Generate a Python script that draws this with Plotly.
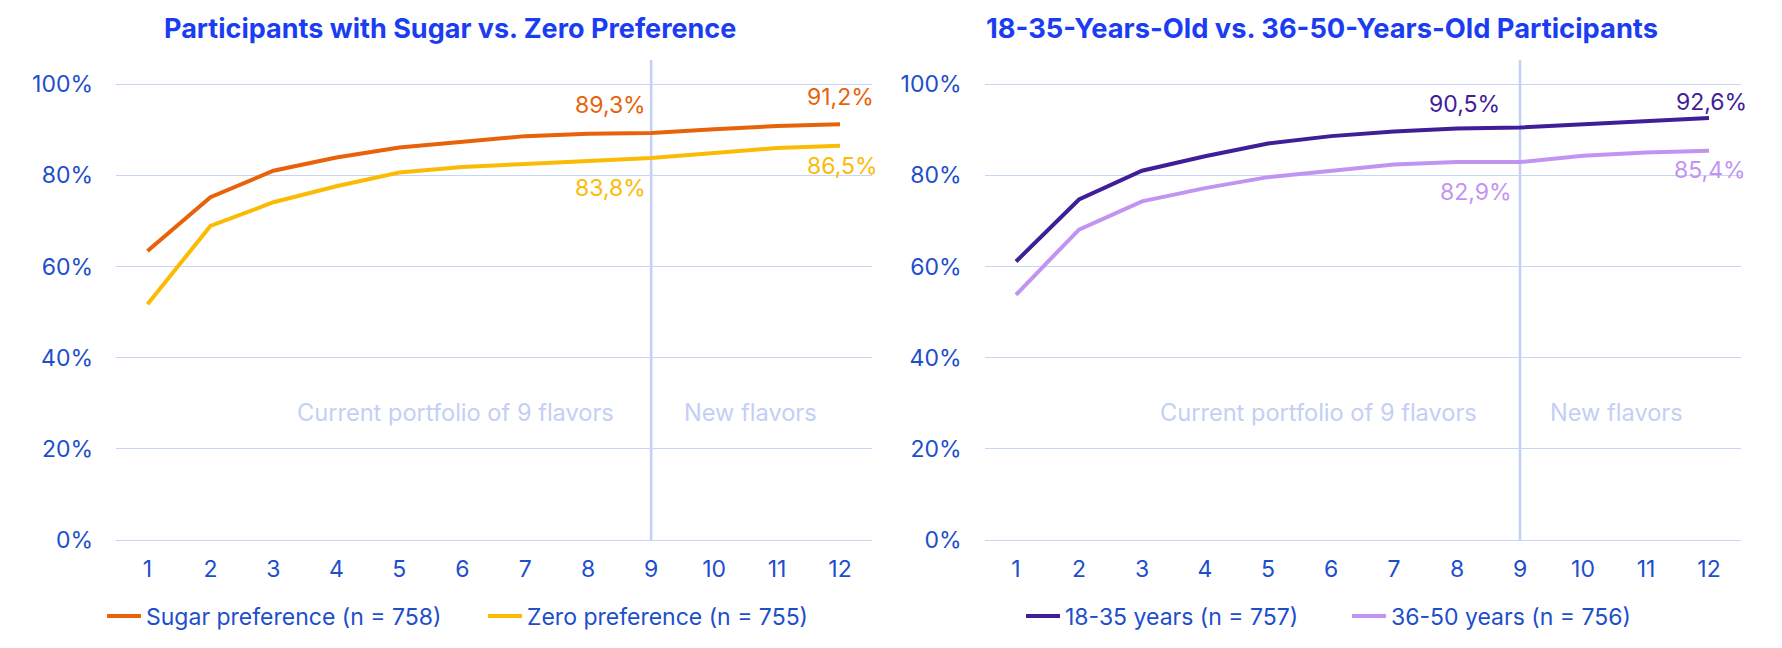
import plotly.graph_objects as go

# ---------------- data ----------------
flavors = list(range(1, 13))
sugar_pref = [0.634, 0.752, 0.810, 0.839, 0.861, 0.874, 0.886, 0.891, 0.893, 0.901, 0.908, 0.912]
zero_pref = [0.517, 0.689, 0.741, 0.776, 0.806, 0.818, 0.825, 0.831, 0.838, 0.849, 0.860, 0.865]
age_18_35 = [0.611, 0.747, 0.810, 0.842, 0.870, 0.886, 0.896, 0.903, 0.905, 0.912, 0.918, 0.926]
age_36_50 = [0.538, 0.681, 0.743, 0.772, 0.796, 0.811, 0.824, 0.829, 0.829, 0.843, 0.850, 0.854]

name_sugar = "Sugar preference (n = 758)"
name_zero = "Zero preference (n = 755)"
name_young = "18-35 years (n = 757)"
name_old = "36-50 years (n = 756)"

title_left = "Participants with Sugar vs. Zero Preference"
title_right = "18-35-Years-Old vs. 36-50-Years-Old Participants"
portfolio_text = "Current portfolio of 9 flavors"
new_text = "New flavors"
portfolio_size = 9
y_ticks = [0, 0.2, 0.4, 0.6, 0.8, 1.0]

# ---------------- style ----------------
FONT = "Inter"
TITLE_C = "#1B3DF2"
TICK_C = "#1D4ECC"
GRID_C = "#C6D5F8"
VLINE_C = "#C2D0F8"
NOTE_C = "#C3CFF6"
C_SUGAR = "#E8620A"
C_ZERO = "#FBBB05"
C_YOUNG = "#3F1E98"
C_OLD = "#C294F2"
FS = 23
W, H = 1782, 648


def pct(v):
    return f"{v*100:.1f}".replace(".", ",") + "%"


fig = go.Figure()

series = [
    (sugar_pref, name_sugar, C_SUGAR, "x", "y", "legend", 102),
    (zero_pref, name_zero, C_ZERO, "x", "y", "legend2", 483),
    (age_18_35, name_young, C_YOUNG, "x2", "y2", "legend3", 1021),
    (age_36_50, name_old, C_OLD, "x2", "y2", "legend4", 1347),
]
legends = {}
for vals, nm, col, xa, ya, lg, lx in series:
    fig.add_trace(go.Scatter(
        x=flavors, y=vals, name=nm, mode="lines",
        line=dict(color=col, width=4), xaxis=xa, yaxis=ya, legend=lg,
        hoverinfo="skip",
    ))
    legends[lg] = dict(orientation="h", x=lx / W, xref="container", xanchor="left",
                       y=32 / H, yref="container", yanchor="middle",
                       font=dict(family=FONT, size=FS, color=TICK_C),
                       bgcolor="rgba(0,0,0,0)", itemwidth=34)

YMAX = 1.053
ax_common_x = dict(
    range=[0.5, 12.5], tickvals=flavors, showgrid=False, zeroline=False,
    showline=False, ticks="", tickfont=dict(family=FONT, size=FS, color=TICK_C),
    ticklabelstandoff=13, automargin=False,
)
ax_common_y = dict(
    range=[0, YMAX], tickvals=y_ticks, tickformat=".0%", showgrid=True,
    gridcolor=GRID_C, gridwidth=1, zeroline=True, zerolinecolor=GRID_C,
    zerolinewidth=1, showline=False, ticks="",
    tickfont=dict(family=FONT, size=FS, color=TICK_C), ticklabelstandoff=22,
    automargin=False,
)

y_dom = [(H - 540) / H, (H - 60) / H]
fig.update_layout(
    width=W, height=H,
    margin=dict(l=0, r=0, t=0, b=0, autoexpand=False),
    paper_bgcolor="white", plot_bgcolor="white",
    font=dict(family=FONT, color=TICK_C),
    xaxis=dict(domain=[116 / W, 871.5 / W], anchor="y", **ax_common_x),
    yaxis=dict(domain=y_dom, anchor="x", **ax_common_y),
    xaxis2=dict(domain=[984.5 / W, 1740.5 / W], anchor="y2", **ax_common_x),
    yaxis2=dict(domain=y_dom, anchor="x2", **ax_common_y),
    showlegend=True,
    **legends,
)

# vertical separators and region notes
for xa, ya, s_left, s_right in [("x", "y", -35, 31), ("x2", "y2", -41, 28)]:
    fig.add_shape(type="line", xref=xa, yref=ya, x0=portfolio_size, x1=portfolio_size,
                  y0=0, y1=YMAX, line=dict(color=VLINE_C, width=2.5), layer="below")
    fig.add_annotation(xref=xa, yref=ya, x=portfolio_size, y=0.28, text=portfolio_text,
                       showarrow=False, xanchor="right", yanchor="middle", xshift=s_left,
                       font=dict(family=FONT, size=23.6, color=NOTE_C))
    fig.add_annotation(xref=xa, yref=ya, x=portfolio_size, y=0.28, text=new_text,
                       showarrow=False, xanchor="left", yanchor="middle", xshift=s_right,
                       font=dict(family=FONT, size=23.6, color=NOTE_C))

# data labels (index 8 -> flavor 9, index 11 -> flavor 12)
label_cfg = [
    (sugar_pref, C_SUGAR, "x", "y", 8, "right", -3, 28),
    (sugar_pref, C_SUGAR, "x", "y", 11, "center", 0, 27),
    (zero_pref, C_ZERO, "x", "y", 8, "right", -3, -30),
    (zero_pref, C_ZERO, "x", "y", 11, "center", 2, -20),
    (age_18_35, C_YOUNG, "x2", "y2", 8, "right", -18, 23),
    (age_18_35, C_YOUNG, "x2", "y2", 11, "center", 2, 16),
    (age_36_50, C_OLD, "x2", "y2", 8, "right", -6, -30),
    (age_36_50, C_OLD, "x2", "y2", 11, "center", 1, -19),
]
for vals, col, xa, ya, i, anc, xs, ys in label_cfg:
    fig.add_annotation(xref=xa, yref=ya, x=flavors[i], y=vals[i], text=pct(vals[i]),
                       showarrow=False, xanchor=anc, yanchor="middle", xshift=xs, yshift=ys,
                       font=dict(family=FONT, size=FS, color=col))

# titles
fig.add_annotation(xref="paper", yref="paper", x=450 / W, y=(H - 29) / H,
                   text=f"<b>{title_left}</b>", showarrow=False, xanchor="center",
                   yanchor="middle", font=dict(family=FONT, size=27, color=TITLE_C))
fig.add_annotation(xref="paper", yref="paper", x=1322 / W, y=(H - 29) / H,
                   text=f"<b>{title_right}</b>", showarrow=False, xanchor="center",
                   yanchor="middle", font=dict(family=FONT, size=27.3, color=TITLE_C))

fig.write_html("out.html")
